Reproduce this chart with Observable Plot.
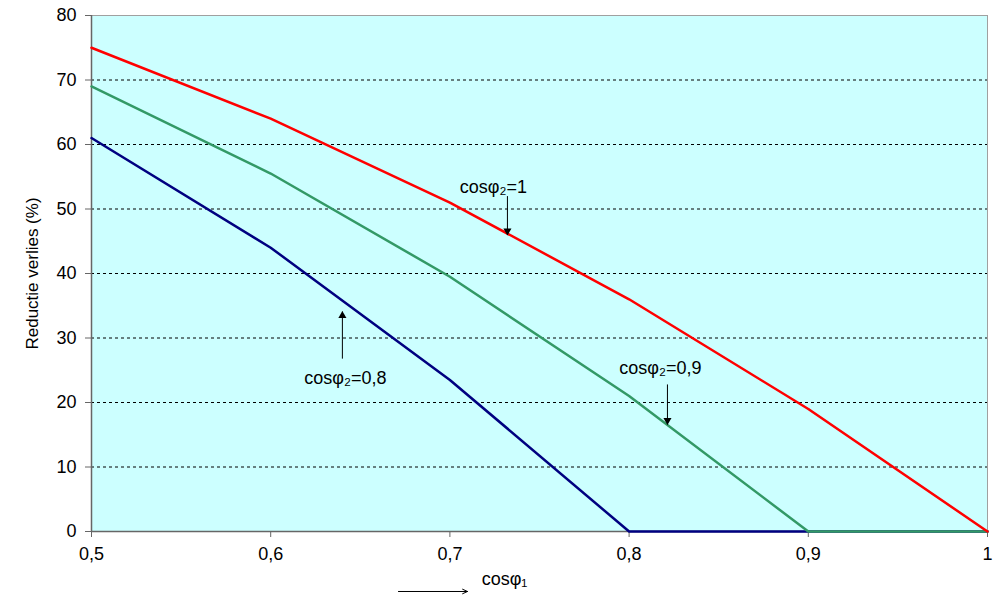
<!DOCTYPE html>
<html><head><meta charset="utf-8">
<script src="https://cdn.jsdelivr.net/npm/d3@7"></script>
<script src="https://cdn.jsdelivr.net/npm/@observablehq/plot@0.6"></script>
<style>body{margin:0;background:#fff}</style>
</head><body><div id="chart"></div>
<script>
const cosPhi1 = [0.5, 0.6, 0.7, 0.8, 0.9, 1.0];
const red10 = [75, 64, 51, 36, 19, 0];      // cosφ2 = 1
const green09 = [69, 55.5, 39.5, 21, 0, 0]; // cosφ2 = 0,9
const blue08 = [61, 44, 23.5, 0, 0, 0];     // cosφ2 = 0,8
const xTicks = [0.5, 0.6, 0.7, 0.8, 0.9, 1];
const yTicks = [0, 10, 20, 30, 40, 50, 60, 70, 80];
const labels = ["cosφ₂=1", "cosφ₂=0,9", "cosφ₂=0,8"];
const labelX = [0.7243, 0.8175, 0.6417];
const labelY = [53.3, 25.3, 23.7];
const arrowX = [0.7321, 0.8214, 0.6400];
const arrowY1 = [52.0, 22.8, 26.8];
const arrowY2 = [46.0, 16.6, 34.1];
const xLabel = "cosφ₁";

const series = [
  {name: "0,8", values: blue08, color: "#000080"},
  {name: "0,9", values: green09, color: "#339966"},
  {name: "1", values: red10, color: "#ff0000"}
];
const rows = series.flatMap(s => cosPhi1.map((x, i) => ({x, y: s.values[i], name: s.name, color: s.color})));
const ann = labels.map((t, i) => ({t, x: labelX[i], y: labelY[i]}));
const arr = arrowX.map((x, i) => ({x, y1: arrowY1[i], y2: arrowY2[i], up: arrowY2[i] > arrowY1[i]}));

const chart = Plot.plot({
  width: 1003, height: 597,
  marginLeft: 91, marginRight: 16, marginTop: 15, marginBottom: 66,
  style: {background: "white", fontFamily: "Arial, 'Liberation Sans', sans-serif", fontSize: "18px", color: "black", overflow: "visible"},
  x: {domain: [0.5, 1]},
  y: {domain: [0, 80]},
  marks: [
    Plot.frame({fill: "#ccffff", stroke: "#a0a0a0"}),
    Plot.gridY(yTicks.filter(d => d > 0 && d < 80), {stroke: "black", strokeOpacity: 1, strokeDasharray: "3,3", strokeWidth: 1}),
    Plot.axisY({ticks: yTicks, tickSize: 6, tickPadding: 9, stroke: "#666", fontSize: 18, label: null}),
    Plot.axisY({ticks: [], tickSize: 0, fontSize: 17,
      label: "Reductie verlies (%)", labelAnchor: "center", labelArrow: "none", labelOffset: 66}),
    Plot.axisX({ticks: xTicks, tickSize: 6, tickPadding: 10, stroke: "#666", fontSize: 18,
      tickFormat: d => String(d).replace(".", ","), label: null}),
    Plot.ruleX([0.5], {stroke: "#666", strokeWidth: 1.5}),
    Plot.ruleY([0], {stroke: "#666", strokeWidth: 1.5}),
    Plot.line(rows, {x: "x", y: "y", z: "name", stroke: "color", strokeWidth: 2.5}),
    Plot.link(arr, {x1: "x", x2: "x", y1: "y1", y2: "y2", stroke: "black", strokeWidth: 1}),
    Plot.dot(arr, {x: "x", y: "y2", symbol: "triangle", r: 3, fill: "black", stroke: "none",
      rotate: d => d.up ? 0 : 180}),
    Plot.text(ann, {x: "x", y: "y", text: "t", fontSize: 18, fill: "black"}),
    Plot.text([xLabel], {x: 0.7305, y: -7.4, text: d => d, fontSize: 18, fill: "black"}),
    Plot.arrow([0], {x1: 0.6713, x2: 0.7098, y1: -9.3, y2: -9.3, stroke: "black", strokeWidth: 1, headLength: 8, headAngle: 50})
  ]
});
// adjust triangle tips so the apex sits on the arrow end
chart.querySelectorAll("g[aria-label='dot'] path").forEach((p, i) => {
  const up = arr[i].up;
  const t = p.getAttribute("transform") || "";
  p.setAttribute("transform", t.replace(/translate\(([^,]+),([^)]+)\)/, (m, a, b) => `translate(${a},${+b + (up ? 4 : -4)})`));
});
document.getElementById("chart").appendChild(chart);
</script></body></html>
